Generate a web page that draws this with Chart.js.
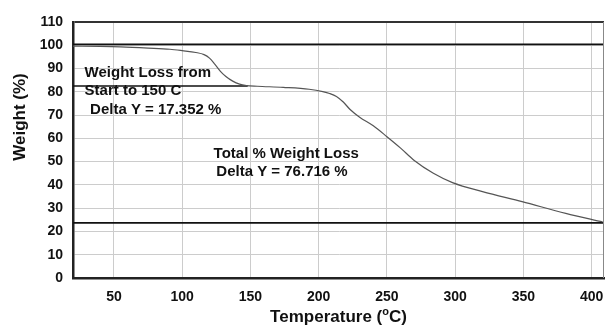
<!DOCTYPE html>
<html>
<head>
<meta charset="utf-8">
<script src="https://cdn.jsdelivr.net/npm/chart.js@4/dist/chart.umd.min.js"></script>
<style>
  html, body { margin: 0; padding: 0; background: #fff; }
  canvas { display: block; }
</style>
</head>
<body>
<canvas id="grafico" width="606" height="326"></canvas>
<script>
// TGA curve: temperature (C) and weight (%)
const temperatura = [20, 40, 55, 75, 91, 100, 110, 116, 120, 124, 128, 132, 137, 142, 147, 155, 174, 193, 203, 208, 213, 218, 223, 230, 240, 250, 260, 270, 284, 298, 320, 349, 381, 408];
const peso = [99.6, 99.5, 99.3, 98.8, 98.3, 97.7, 96.9, 96.0, 94.5, 91.8, 88.8, 86.6, 84.6, 83.3, 82.7, 82.4, 81.9, 81.1, 80.1, 79.3, 78.0, 75.6, 72.4, 69.1, 65.4, 60.7, 55.8, 50.5, 45.0, 41.0, 37.1, 32.8, 27.8, 24.1];

// horizontal marker lines [temp, weight]
const linhaTopo = [[20, 100.4], [409, 100.4]];
const linha150 = [[20, 82.5], [148, 82.5]];
const linhaFinal = [[20, 23.7], [409, 23.7]];

const xTicks = [50, 100, 150, 200, 250, 300, 350, 400];
const yTicks = [0, 10, 20, 30, 40, 50, 60, 70, 80, 90, 100, 110];

const notas = [
  { texto: "Weight Loss from", x: 28.5, y: 88.3 },
  { texto: "Start to 150 C", x: 28.5, y: 80.2 },
  { texto: "Delta Y = 17.352 %", x: 32.5, y: 72.4 },
  { texto: "Total % Weight Loss", x: 123, y: 53.3 },
  { texto: "Delta Y = 76.716 %", x: 125, y: 45.6 }
];

const pares = arr => arr.map(p => ({ x: p[0], y: p[1] }));
const fonte = '"Liberation Sans", Arial, sans-serif';

const textos = {
  id: "textos",
  afterDatasetsDraw(chart) {
    const { ctx, scales, chartArea } = chart;
    ctx.save();
    ctx.fillStyle = "#111";
    ctx.font = "bold 15px " + fonte;
    ctx.textBaseline = "middle";
    ctx.textAlign = "left";
    notas.forEach(n => {
      ctx.fillText(n.texto, scales.x.getPixelForValue(n.x), scales.y.getPixelForValue(n.y));
    });

    // right border
    ctx.strokeStyle = "#888";
    ctx.lineWidth = 1;
    ctx.beginPath();
    ctx.moveTo(chartArea.right - 0.5, chartArea.top);
    ctx.lineTo(chartArea.right - 0.5, chartArea.bottom);
    ctx.stroke();

    // axis titles
    ctx.font = "bold 17px " + fonte;
    ctx.fillStyle = "#111";
    ctx.save();
    ctx.translate(20, 117);
    ctx.rotate(-Math.PI / 2);
    ctx.textAlign = "center";
    ctx.fillText("Weight (%)", 0, 0);
    ctx.restore();

    const partes = ["Temperature (", "o", "C)"];
    const w1 = ctx.measureText(partes[0]).width;
    ctx.font = "bold 11px " + fonte;
    const w2 = ctx.measureText(partes[1]).width;
    ctx.font = "bold 17px " + fonte;
    const w3 = ctx.measureText(partes[2]).width;
    let x0 = (chartArea.left + chartArea.right) / 2 - (w1 + w2 + w3) / 2;
    const yT = 317;
    ctx.textAlign = "left";
    ctx.fillText(partes[0], x0, yT);
    ctx.font = "bold 11px " + fonte;
    ctx.fillText(partes[1], x0 + w1, yT - 5);
    ctx.font = "bold 17px " + fonte;
    ctx.fillText(partes[2], x0 + w1 + w2, yT);
    ctx.restore();
  }
};

const ctx = document.getElementById("grafico").getContext("2d");
new Chart(ctx, {
  type: "line",
  data: {
    datasets: [
      {
        label: "TGA",
        data: temperatura.map((t, i) => ({ x: t, y: peso[i] })),
        borderColor: "#555",
        borderWidth: 1.2,
        pointRadius: 0,
        cubicInterpolationMode: "monotone"
      },
      { label: "topo", data: pares(linhaTopo), borderColor: "#111", borderWidth: 1.6, pointRadius: 0 },
      { label: "150", data: pares(linha150), borderColor: "#111", borderWidth: 1.6, pointRadius: 0 },
      { label: "final", data: pares(linhaFinal), borderColor: "#111", borderWidth: 1.6, pointRadius: 0 }
    ]
  },
  options: {
    responsive: false,
    animation: false,
    events: [],
    layout: { padding: { top: 22, right: 2, left: 0, bottom: 0 } },
    plugins: { legend: { display: false }, tooltip: { enabled: false } },
    scales: {
      x: {
        type: "linear",
        min: 20,
        max: 409,
        afterFit: s => { s.height = 48; s.paddingLeft = 0; s.paddingRight = 0; },
        afterBuildTicks: s => { s.ticks = xTicks.map(v => ({ value: v })); },
        grid: { color: "#cccccc", lineWidth: 1, drawTicks: false },
        border: { display: true, color: "#222", width: 2.5 },
        ticks: { color: "#111", padding: 11, font: { family: fonte, size: 14, weight: "bold" } }
      },
      y: {
        min: 0,
        max: 110,
        afterFit: s => { s.width = 73; },
        afterBuildTicks: s => { s.ticks = yTicks.map(v => ({ value: v })); },
        grid: {
          color: c => (c.tick && c.tick.value === 110 ? "#333" : "#cccccc"),
          lineWidth: c => (c.tick && c.tick.value === 110 ? 2 : 1),
          drawTicks: false
        },
        border: { display: true, color: "#222", width: 2.5 },
        ticks: { color: "#111", padding: 10, font: { family: fonte, size: 14, weight: "bold" } }
      }
    }
  },
  plugins: [textos]
});
</script>
</body>
</html>
